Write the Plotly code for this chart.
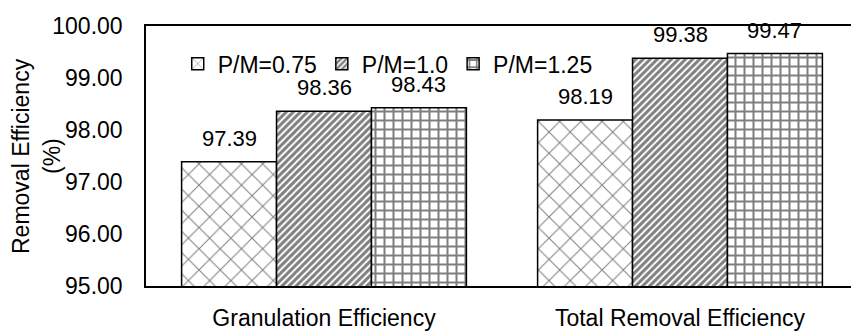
import plotly.graph_objects as go

categories = ["Granulation Efficiency", "Total Removal Efficiency"]
series_names = ["P/M=0.75", "P/M=1.0", "P/M=1.25"]
pm_075 = [97.39, 98.19]
pm_100 = [98.36, 99.38]
pm_125 = [98.43, 99.47]
y_ticks = [95, 96, 97, 98, 99, 100]

series_values = [pm_075, pm_100, pm_125]
patterns = [
    dict(shape="x", size=15, solidity=0.13, fgcolor="black", bgcolor="white"),
    dict(shape="/", size=5, solidity=0.6, fgcolor="black", bgcolor="white"),
    dict(shape="+", size=9, solidity=0.4, fgcolor="black", bgcolor="white"),
]

FONT = "Liberation Sans, Arial, sans-serif"
FS = 23
fig = go.Figure()
x_idx = list(range(len(categories)))
for name, vals, pat in zip(series_names, series_values, patterns):
    fig.add_trace(go.Bar(
        x=x_idx, y=vals, name=name,
        marker=dict(color="white", pattern=pat, line=dict(color="black", width=1.5)),
        base=0,
    ))

n = len(series_names)
bargap = 0.2
bw = (1 - bargap) / n
for j, vals in enumerate(series_values):
    for i, v in enumerate(vals):
        fig.add_annotation(
            x=i + (j - (n - 1) / 2) * bw, y=v, xref="x", yref="y",
            text=f"{v:.2f}", showarrow=False, yanchor="bottom", yshift=9,
            font=dict(size=22, color="black", family=FONT),
        )

fig.add_annotation(
    xref="paper", yref="paper", x=-0.1773, y=0.5, xanchor="center", yanchor="middle",
    text="Removal Efficiency", textangle=-90, showarrow=False,
    font=dict(size=FS, color="black", family=FONT),
)
fig.add_annotation(
    xref="paper", yref="paper", x=-0.1333, y=0.5, xanchor="center", yanchor="middle",
    text="(%)", textangle=-90, showarrow=False,
    font=dict(size=FS, color="black", family=FONT),
)

fig.update_layout(
    width=851, height=331,
    margin=dict(l=146, r=0, t=26, b=40.5, pad=0),
    paper_bgcolor="white", plot_bgcolor="white",
    barmode="group", bargap=bargap, bargroupgap=0,
    font=dict(family=FONT, size=FS, color="black"),
    showlegend=True,
    legend=dict(orientation="h", x=0.045, y=0.855, xanchor="left", yanchor="middle",
                bgcolor="rgba(0,0,0,0)", font=dict(size=FS, color="black", family=FONT),
                itemwidth=30, traceorder="normal"),
    xaxis=dict(
        tickmode="array", tickvals=x_idx, ticktext=categories,
        range=[-0.5, -0.5 + 705 / 356], showgrid=False, zeroline=False,
        showline=True, linecolor="black", linewidth=1.5, mirror=True,
        ticks="", ticklabelstandoff=11, tickfont=dict(size=FS, family=FONT, color="black"),
    ),
    yaxis=dict(
        range=[95, 100], tickmode="array", tickvals=y_ticks, tickformat=".2f",
        showgrid=False, zeroline=False, showline=True, linecolor="black", linewidth=1.5,
        mirror=False, ticks="", ticklabelstandoff=17,
        tickfont=dict(size=FS, family=FONT, color="black"),
    ),
)

fig.write_html("out.html")
